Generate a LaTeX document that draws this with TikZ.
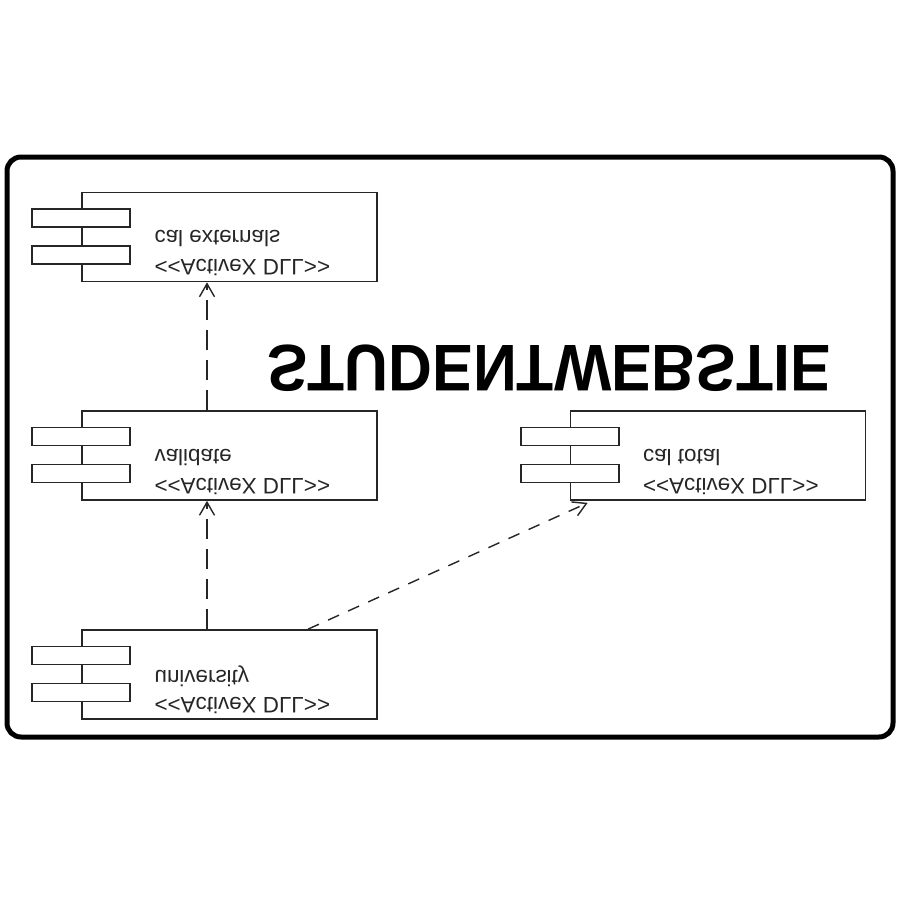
\documentclass[tikz,border=0pt]{standalone}
\usepackage{fontspec}
\setmainfont{Liberation Sans}
\usetikzlibrary{arrows.meta, calc, positioning}
\tikzset{
    compBox/.style={rectangle, draw=black!85, fill=white, line width=0.85pt, minimum width=147.5pt, minimum height=44.5pt, inner sep=0pt},
    compTab/.style={rectangle, draw=black!85, fill=white, line width=0.85pt, minimum width=49pt, minimum height=9pt, inner sep=0pt},
    compText/.style={anchor=west, inner sep=0pt, text=black!85, font=\fontsize{11.2}{13}\selectfont, yscale=-1},
    depEdge/.style={-{Straight Barb[length=6.5pt, width=7.5pt]}, line width=0.7pt, draw=black!85, dash pattern=on 10pt off 5pt},
    depEdgeShort/.style={depEdge, dash pattern=on 6pt off 5pt},
    sysFrame/.style={draw, line width=2.5pt, rounded corners=7pt},
}
\newcommand{\drawComp}[3]{
    \node[compBox] (#1) at (#2) {};
    \node[compTab] (#1TabA) at ([yshift=9.5pt]#1.west) {};
    \node[compTab] (#1TabB) at ([yshift=-9pt]#1.west) {};
    \node[compText] (#1Name) at ([xshift=36.5pt, yshift=-1pt]#1.west) {#3};
    \node[compText] (#1Kind) at ([xshift=36.5pt, yshift=-15.5pt]#1.west) {<\kern0pt<ActiveX DLL>\kern0pt>};
}

\begin{document}
\begin{tikzpicture}[x=0.5pt, y=-0.5pt]

        \useasboundingbox[fill=white] (0,0) rectangle (900,900);
        \draw[sysFrame] (7,157) rectangle (893,737);

        \node[inner sep=0pt, font=\bfseries\fontsize{33}{33}\selectfont, xscale=0.92, yscale=-1] (title) at (549,368) {STUDENTWEBSTIE};

        \drawComp{calExt}{229.5,237}{cal externals}
        \drawComp{validate}{229.5,455.5}{validate}
        \drawComp{university}{229.5,674.5}{university}
        \drawComp{calTotal}{718,455.5}{cal total}

        \draw[depEdge] ([xshift=-11.25pt]validate.north) -- ([xshift=-11.25pt]calExt.south);
        \draw[depEdge] ([xshift=-11.25pt]university.north) -- ([xshift=-11.25pt]validate.south);
        \draw[depEdgeShort] ([xshift=39.25pt]university.north) -- ([xshift=9pt, yshift=-1pt]calTotal.south west);

    \end{tikzpicture}
\end{document}
